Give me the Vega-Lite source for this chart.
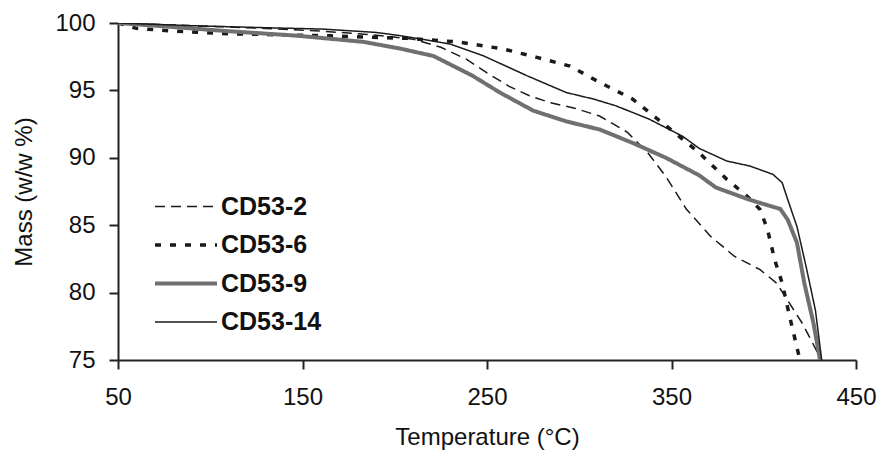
{
  "$schema": "https://vega.github.io/schema/vega-lite/v6.json",
  "autosize": "none",
  "width": 738,
  "height": 337,
  "padding": {"left": 118, "top": 23, "right": 28, "bottom": 100},
  "background": "white",
  "config": {
    "view": {"stroke": null},
    "font": "Liberation Sans",
    "axis": {
      "grid": false,
      "labelFlush": false,
      "domainColor": "#222222",
      "domainWidth": 2,
      "tickColor": "#222222",
      "tickWidth": 2,
      "tickSize": 9,
      "labelFont": "Liberation Sans",
      "labelFontSize": 24,
      "labelColor": "#111111",
      "titleFont": "Liberation Sans",
      "titleFontSize": 24,
      "titleFontWeight": "normal",
      "titleColor": "#111111"
    }
  },
  "data": {
    "values": [
      {"s": "CD53-2", "t": 50, "m": 100},
      {"s": "CD53-2", "t": 70, "m": 99.9},
      {"s": "CD53-2", "t": 100, "m": 99.75},
      {"s": "CD53-2", "t": 130, "m": 99.6},
      {"s": "CD53-2", "t": 160, "m": 99.4},
      {"s": "CD53-2", "t": 190, "m": 99.1},
      {"s": "CD53-2", "t": 210, "m": 98.8},
      {"s": "CD53-2", "t": 225, "m": 98.2},
      {"s": "CD53-2", "t": 239, "m": 97.3},
      {"s": "CD53-2", "t": 250, "m": 96.3},
      {"s": "CD53-2", "t": 262, "m": 95.3},
      {"s": "CD53-2", "t": 273, "m": 94.6},
      {"s": "CD53-2", "t": 284, "m": 94.1},
      {"s": "CD53-2", "t": 297, "m": 93.7},
      {"s": "CD53-2", "t": 311, "m": 93.1},
      {"s": "CD53-2", "t": 326, "m": 91.9},
      {"s": "CD53-2", "t": 337, "m": 90.4},
      {"s": "CD53-2", "t": 347, "m": 88.6},
      {"s": "CD53-2", "t": 358, "m": 86.2},
      {"s": "CD53-2", "t": 371, "m": 84.2},
      {"s": "CD53-2", "t": 384, "m": 82.7},
      {"s": "CD53-2", "t": 398, "m": 81.7},
      {"s": "CD53-2", "t": 407, "m": 80.7},
      {"s": "CD53-2", "t": 414, "m": 79.2},
      {"s": "CD53-2", "t": 421, "m": 77.7},
      {"s": "CD53-2", "t": 428.6, "m": 75.7},
      {"s": "CD53-2", "t": 430.5, "m": 75},
      {"s": "CD53-6", "t": 50, "m": 100},
      {"s": "CD53-6", "t": 60, "m": 99.6},
      {"s": "CD53-6", "t": 80, "m": 99.4},
      {"s": "CD53-6", "t": 110, "m": 99.2},
      {"s": "CD53-6", "t": 165, "m": 99.05},
      {"s": "CD53-6", "t": 207, "m": 98.86},
      {"s": "CD53-6", "t": 234, "m": 98.6},
      {"s": "CD53-6", "t": 259, "m": 98.07},
      {"s": "CD53-6", "t": 277, "m": 97.45},
      {"s": "CD53-6", "t": 295, "m": 96.8},
      {"s": "CD53-6", "t": 311, "m": 95.6},
      {"s": "CD53-6", "t": 329, "m": 94.35},
      {"s": "CD53-6", "t": 345, "m": 92.6},
      {"s": "CD53-6", "t": 364, "m": 90.5},
      {"s": "CD53-6", "t": 380, "m": 88.4},
      {"s": "CD53-6", "t": 391, "m": 87.15},
      {"s": "CD53-6", "t": 398, "m": 86.16},
      {"s": "CD53-6", "t": 402, "m": 84.7},
      {"s": "CD53-6", "t": 406, "m": 82.4},
      {"s": "CD53-6", "t": 410, "m": 80.7},
      {"s": "CD53-6", "t": 414, "m": 78.25},
      {"s": "CD53-6", "t": 419.6, "m": 75},
      {"s": "CD53-9", "t": 50, "m": 100},
      {"s": "CD53-9", "t": 80, "m": 99.7},
      {"s": "CD53-9", "t": 109, "m": 99.4},
      {"s": "CD53-9", "t": 147, "m": 99.06},
      {"s": "CD53-9", "t": 183, "m": 98.6},
      {"s": "CD53-9", "t": 203, "m": 98.1},
      {"s": "CD53-9", "t": 221, "m": 97.55},
      {"s": "CD53-9", "t": 242, "m": 96.1},
      {"s": "CD53-9", "t": 257, "m": 94.84},
      {"s": "CD53-9", "t": 275, "m": 93.5},
      {"s": "CD53-9", "t": 293, "m": 92.7},
      {"s": "CD53-9", "t": 311, "m": 92.1},
      {"s": "CD53-9", "t": 329, "m": 91.1},
      {"s": "CD53-9", "t": 347, "m": 90.0},
      {"s": "CD53-9", "t": 365, "m": 88.7},
      {"s": "CD53-9", "t": 374, "m": 87.8},
      {"s": "CD53-9", "t": 392, "m": 86.9},
      {"s": "CD53-9", "t": 409, "m": 86.2},
      {"s": "CD53-9", "t": 413, "m": 85.4},
      {"s": "CD53-9", "t": 418, "m": 83.7},
      {"s": "CD53-9", "t": 422, "m": 80.7},
      {"s": "CD53-9", "t": 427, "m": 77.7},
      {"s": "CD53-9", "t": 430.5, "m": 75},
      {"s": "CD53-14", "t": 50, "m": 100},
      {"s": "CD53-14", "t": 90, "m": 99.8},
      {"s": "CD53-14", "t": 130, "m": 99.65},
      {"s": "CD53-14", "t": 161, "m": 99.55},
      {"s": "CD53-14", "t": 190, "m": 99.3},
      {"s": "CD53-14", "t": 203, "m": 99.06},
      {"s": "CD53-14", "t": 219, "m": 98.7},
      {"s": "CD53-14", "t": 230, "m": 98.44},
      {"s": "CD53-14", "t": 248, "m": 97.57},
      {"s": "CD53-14", "t": 271.5, "m": 96.1},
      {"s": "CD53-14", "t": 293, "m": 94.84},
      {"s": "CD53-14", "t": 308, "m": 94.35},
      {"s": "CD53-14", "t": 320, "m": 93.85},
      {"s": "CD53-14", "t": 338, "m": 92.86},
      {"s": "CD53-14", "t": 356, "m": 91.6},
      {"s": "CD53-14", "t": 365, "m": 90.7},
      {"s": "CD53-14", "t": 380, "m": 89.76},
      {"s": "CD53-14", "t": 392.5, "m": 89.39},
      {"s": "CD53-14", "t": 405, "m": 88.77},
      {"s": "CD53-14", "t": 410, "m": 88.15},
      {"s": "CD53-14", "t": 413, "m": 86.9},
      {"s": "CD53-14", "t": 418, "m": 84.9},
      {"s": "CD53-14", "t": 423, "m": 81.9},
      {"s": "CD53-14", "t": 428, "m": 78.7},
      {"s": "CD53-14", "t": 431.4, "m": 75}
    ]
  },
  "mark": {"type": "line", "clip": true},
  "encoding": {
    "x": {
      "field": "t", "type": "quantitative",
      "scale": {"domain": [50, 450], "nice": false, "zero": false},
      "axis": {"values": [50, 150, 250, 350, 450], "title": "Temperature (°C)", "labelPadding": 16, "titlePadding": 16}
    },
    "y": {
      "field": "m", "type": "quantitative",
      "scale": {"domain": [75, 100], "nice": false, "zero": false},
      "axis": {"values": [75, 80, 85, 90, 95, 100], "title": "Mass (w/w %)", "labelPadding": 14, "titlePadding": 18}
    },
    "color": {
      "field": "s", "type": "nominal",
      "scale": {"domain": ["CD53-2", "CD53-6", "CD53-9", "CD53-14"], "range": ["#1a1a1a", "#1a1a1a", "#707070", "#1a1a1a"]},
      "legend": {
        "title": null, "orient": "none", "legendX": 35, "legendY": 165,
        "symbolType": "stroke", "symbolSize": 3844, "labelFontSize": 25, "labelFontWeight": "bold",
        "labelColor": "#111111", "labelOffset": 2, "rowPadding": 1.5, "clipHeight": 37
      }
    },
    "strokeDash": {
      "field": "s", "type": "nominal",
      "scale": {"domain": ["CD53-2", "CD53-6", "CD53-9", "CD53-14"], "range": [[10, 6], [6, 9], [1, 0], [1, 0]]},
      "legend": {
        "title": null, "orient": "none", "legendX": 35, "legendY": 165,
        "symbolType": "stroke", "symbolSize": 3844, "labelFontSize": 25, "labelFontWeight": "bold",
        "labelColor": "#111111", "labelOffset": 2, "rowPadding": 1.5, "clipHeight": 37
      }
    },
    "strokeWidth": {
      "field": "s", "type": "nominal",
      "scale": {"type": "ordinal", "domain": ["CD53-2", "CD53-6", "CD53-9", "CD53-14"], "range": [1.5, 3.5, 4, 1.5]},
      "legend": {
        "title": null, "orient": "none", "legendX": 35, "legendY": 165,
        "symbolType": "stroke", "symbolSize": 3844, "labelFontSize": 25, "labelFontWeight": "bold",
        "labelColor": "#111111", "labelOffset": 2, "rowPadding": 1.5, "clipHeight": 37
      }
    }
  }
}
